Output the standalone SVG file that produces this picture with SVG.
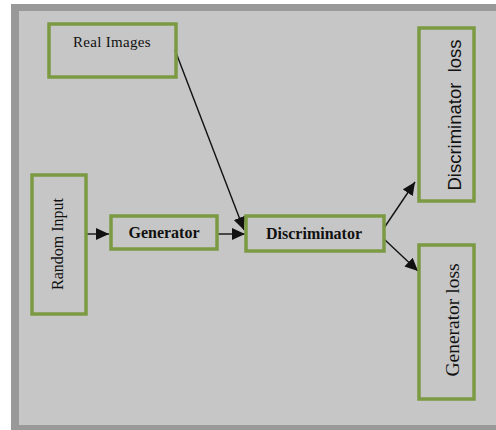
<svg xmlns="http://www.w3.org/2000/svg" width="496" height="430" viewBox="0 0 496 430">
<defs>
<style>
.box{fill:none;stroke:#7b9a42;stroke-width:3.5}
.ser{font-family:"Liberation Serif","Times New Roman",serif;fill:#111}
.b{font-weight:bold}
.conn{stroke:#111;stroke-width:1.4;fill:none}
</style>
<marker id="ah" markerUnits="userSpaceOnUse" markerWidth="14" markerHeight="12" refX="13" refY="6" orient="auto">
<path d="M0,0 L13,6 L0,12 Z" fill="#111"/>
</marker>
</defs>
<rect x="0" y="0" width="496" height="430" fill="#ffffff"/>
<rect x="11" y="4" width="485" height="426" fill="#999999"/>
<rect x="19" y="11" width="477" height="414" fill="#c6c6c6"/>
<g id="connectors">
<line class="conn" x1="87" y1="234" x2="109" y2="234" marker-end="url(#ah)"/>
<line class="conn" x1="218" y1="234" x2="245" y2="234" marker-end="url(#ah)"/>
<line class="conn" x1="175" y1="50" x2="244" y2="230" marker-end="url(#ah)"/>
<line class="conn" x1="384" y1="228" x2="415" y2="182" marker-end="url(#ah)"/>
<line class="conn" x1="384" y1="239" x2="418" y2="271" marker-end="url(#ah)"/>
</g>
<g id="real-images">
<rect class="box" x="49" y="24" width="127" height="53"/>
<text class="ser" x="112" y="47" font-size="15" text-anchor="middle" letter-spacing="0.3">Real Images</text>
</g>
<g id="random-input">
<rect class="box" x="32" y="175" width="54" height="139"/>
<text class="ser" transform="translate(63,244) rotate(-90)" font-size="16" text-anchor="middle">Random Input</text>
</g>
<g id="generator">
<rect class="box" x="111" y="216" width="106" height="33"/>
<text class="ser b" x="164" y="238" font-size="16" text-anchor="middle">Generator</text>
</g>
<g id="discriminator">
<rect class="box" x="246" y="216" width="138" height="35"/>
<text class="ser b" x="314" y="239" font-size="16" text-anchor="middle">Discriminator</text>
</g>
<g id="discriminator-loss">
<rect class="box" x="419" y="28" width="55" height="173"/>
<text transform="translate(461,115) rotate(-90)" font-family="'Liberation Sans',Arial,sans-serif" font-size="18.5" fill="#111" text-anchor="middle" xml:space="preserve">Discriminator  loss</text>
</g>
<g id="generator-loss">
<rect class="box" x="419" y="245" width="55" height="154"/>
<text class="ser" transform="translate(459,320) rotate(-90)" font-size="19.5" text-anchor="middle">Generator loss</text>
</g>
</svg>
